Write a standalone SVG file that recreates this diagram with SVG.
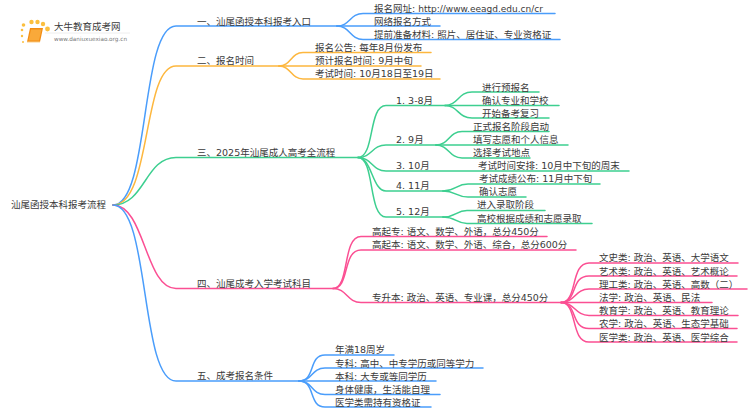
<svg xmlns="http://www.w3.org/2000/svg" width="750" height="410" viewBox="0 0 750 410">
<style>
text{font-family:"DejaVu Sans","Noto Sans CJK SC",sans-serif;font-size:9.5px;fill:#3a3a3a}
.l{fill:none;stroke-width:1.5;stroke-linecap:round}
.b{stroke:#4a9dfb}.o{stroke:#fdb73e}.g{stroke:#3dcf90}.p{stroke:#fb4f93}
.d{fill:#fbbf3f}
</style>
<rect width="750" height="410" fill="#ffffff"/>
<g id="connectors">
<path class="l b" d="M113 205C150 205 140 26 176 26H337"/>
<path class="l o" d="M113 205C152 205 142 66 176 66H279"/>
<path class="l g" d="M113 205C145 205 145 157.500 176 157.500H358"/>
<path class="l p" d="M113 205C145 205 145 288.500 176 288.500H333"/>
<path class="l b" d="M113 205C150 205 140 381 176 381H299"/>
<path class="l b" d="M337 26C350 26 350 13.500 363 13.500H555"/>
<path class="l b" d="M337 26H440"/>
<path class="l b" d="M337 26C350 26 350 39.500 363 39.500H560"/>
<path class="l o" d="M279 66C291 66 291 52.500 303 52.500H431"/>
<path class="l o" d="M279 66H421"/>
<path class="l o" d="M279 66C291 66 291 79 303 79H440"/>
<path class="l g" d="M358 157.500C375 157.500 368 105.500 386 105.500H445"/>
<path class="l g" d="M358 157.500C372 157.500 372 145 386 145H436"/>
<path class="l g" d="M358 157.500C372 157.500 372 171 386 171H629"/>
<path class="l g" d="M358 157.500C372 157.500 372 191 386 191H443"/>
<path class="l g" d="M358 157.500C375 157.500 368 217 386 217H443"/>
<path class="l g" d="M445 105.500C458 105.500 458 92 472 92H539"/>
<path class="l g" d="M445 105.500H559"/>
<path class="l g" d="M445 105.500C458 105.500 458 118 472 118H549"/>
<path class="l g" d="M436 145C449 145 449 131.500 462 131.500H549"/>
<path class="l g" d="M436 145H568"/>
<path class="l g" d="M436 145C449 145 449 158 462 158H530"/>
<path class="l g" d="M443 191C456 191 456 184 468 184H600"/>
<path class="l g" d="M443 191C456 191 456 197 468 197H526"/>
<path class="l g" d="M443 217C456 217 456 210.500 467 210.500H545"/>
<path class="l g" d="M443 217C456 217 456 223.500 467 223.500H592"/>
<path class="l p" d="M333 288.500C350 288.500 342 236.500 361 236.500H547"/>
<path class="l p" d="M333 288.500C350 288.500 342 250 361 250H576"/>
<path class="l p" d="M333 288.500C347 288.500 347 302.500 361 302.500H561"/>
<path class="l p" d="M561 302.500C578 302.500 570 263 589 263H738"/>
<path class="l p" d="M561 302.500C578 302.500 570 276 589 276H737"/>
<path class="l p" d="M561 302.500C575 302.500 575 289 589 289H747"/>
<path class="l p" d="M561 302.500H712"/>
<path class="l p" d="M561 302.500C575 302.500 575 315.500 589 315.500H738"/>
<path class="l p" d="M561 302.500C578 302.500 570 328.500 589 328.500H737"/>
<path class="l p" d="M561 302.500C578 302.500 570 342 589 342H737"/>
<path class="l b" d="M299 381C316 381 308 355 325 355H394"/>
<path class="l b" d="M299 381C313 381 311 368 325 368H483"/>
<path class="l b" d="M299 381H436"/>
<path class="l b" d="M299 381C313 381 311 394.500 325 394.500H440"/>
<path class="l b" d="M299 381C316 381 308 407 325 407H431"/>
</g>
<g id="logo">
<circle class="d" cx="22" cy="30" r="1.300"/><circle class="d" cx="22" cy="36" r="1.200"/><circle class="d" cx="23" cy="42" r="1"/>
<circle class="d" cx="23.500" cy="25" r="1.800"/><circle class="d" cx="31.500" cy="22" r="2.200"/><circle class="d" cx="37.500" cy="22" r="2.200"/><circle class="d" cx="43" cy="24" r="2.200"/><circle class="d" cx="47.500" cy="29" r="2.400"/>
<path d="M30 28H43L40 42H27Z" fill="#f28c13"/>
<path d="M31 29.500H41.500L39 40.500H28.500Z" fill="#f9a93a"/>
<path d="M27 42H40" stroke="#fbd08a" stroke-width="1"/>
<path d="M45 33H130" stroke="#eeeeee" stroke-width="1"/>
<text x="54" y="30">大牛教育成考网</text>
<text x="54" y="41" style="font-size:5.700px;fill:#777777">www.daniuxuexiao.org.cn</text>
</g>
<g id="root"><text x="11" y="207.500">汕尾函授本科报考流程</text></g>
<g id="n1"><text x="197" y="25">一、汕尾函授本科报考入口</text></g>
<g id="n1a"><text x="374" y="11.500">报名网址: <tspan style="font-size:9px">http://www.eeagd.edu.cn/cr</tspan></text></g>
<g id="n1b"><text x="374" y="25">网络报名方式</text></g>
<g id="n1c"><text x="374" y="38">提前准备材料: 照片、居住证、专业资格证</text></g>
<g id="n2"><text x="197" y="64">二、报名时间</text></g>
<g id="n2a"><text x="315" y="51">报名公告: 每年8月份发布</text></g>
<g id="n2b"><text x="315" y="64">预计报名时间: 9月中旬</text></g>
<g id="n2c"><text x="315" y="77">考试时间: 10月18日至19日</text></g>
<g id="n3"><text x="197" y="156">三、2025年汕尾成人高考全流程</text></g>
<g id="n31"><text x="396" y="104">1. 3-8月</text></g>
<g id="n31a"><text x="482" y="90.500">进行预报名</text></g>
<g id="n31b"><text x="482" y="104">确认专业和学校</text></g>
<g id="n31c"><text x="482" y="117">开始备考复习</text></g>
<g id="n32"><text x="396" y="143">2. 9月</text></g>
<g id="n32a"><text x="473" y="130">正式报名阶段启动</text></g>
<g id="n32b"><text x="473" y="143">填写志愿和个人信息</text></g>
<g id="n32c"><text x="473" y="156">选择考试地点</text></g>
<g id="n33"><text x="396" y="169">3. 10月</text></g>
<g id="n33a"><text x="478" y="169">考试时间安排: 10月中下旬的周末</text></g>
<g id="n34"><text x="396" y="189">4. 11月</text></g>
<g id="n34a"><text x="479" y="182">考试成绩公布: 11月中下旬</text></g>
<g id="n34b"><text x="479" y="195">确认志愿</text></g>
<g id="n35"><text x="396" y="215">5. 12月</text></g>
<g id="n35a"><text x="477" y="208">进入录取阶段</text></g>
<g id="n35b"><text x="477" y="221.500">高校根据成绩和志愿录取</text></g>
<g id="n4"><text x="197" y="287">四、汕尾成考入学考试科目</text></g>
<g id="n4a"><text x="372" y="235">高起专: 语文、数学、外语，总分450分</text></g>
<g id="n4b"><text x="372" y="248">高起本: 语文、数学、外语、综合，总分600分</text></g>
<g id="n4c"><text x="372" y="301">专升本: 政治、英语、专业课，总分450分</text></g>
<g id="n4c1"><text x="599" y="261">文史类: 政治、英语、大学语文</text></g>
<g id="n4c2"><text x="599" y="274.500">艺术类: 政治、英语、艺术概论</text></g>
<g id="n4c3"><text x="599" y="287.500">理工类: 政治、英语、高数（二）</text></g>
<g id="n4c4"><text x="599" y="301">法学: 政治、英语、民法</text></g>
<g id="n4c5"><text x="599" y="314">教育学: 政治、英语、教育理论</text></g>
<g id="n4c6"><text x="599" y="327">农学: 政治、英语、生态学基础</text></g>
<g id="n4c7"><text x="599" y="340.500">医学类: 政治、英语、医学综合</text></g>
<g id="n5"><text x="197" y="379">五、成考报名条件</text></g>
<g id="n5a"><text x="335" y="353">年满18周岁</text></g>
<g id="n5b"><text x="335" y="366.500">专科: 高中、中专学历或同等学力</text></g>
<g id="n5c"><text x="335" y="379.500">本科: 大专或等同学历</text></g>
<g id="n5d"><text x="335" y="392.500">身体健康，生活能自理</text></g>
<g id="n5e"><text x="335" y="406">医学类需持有资格证</text></g>
</svg>
